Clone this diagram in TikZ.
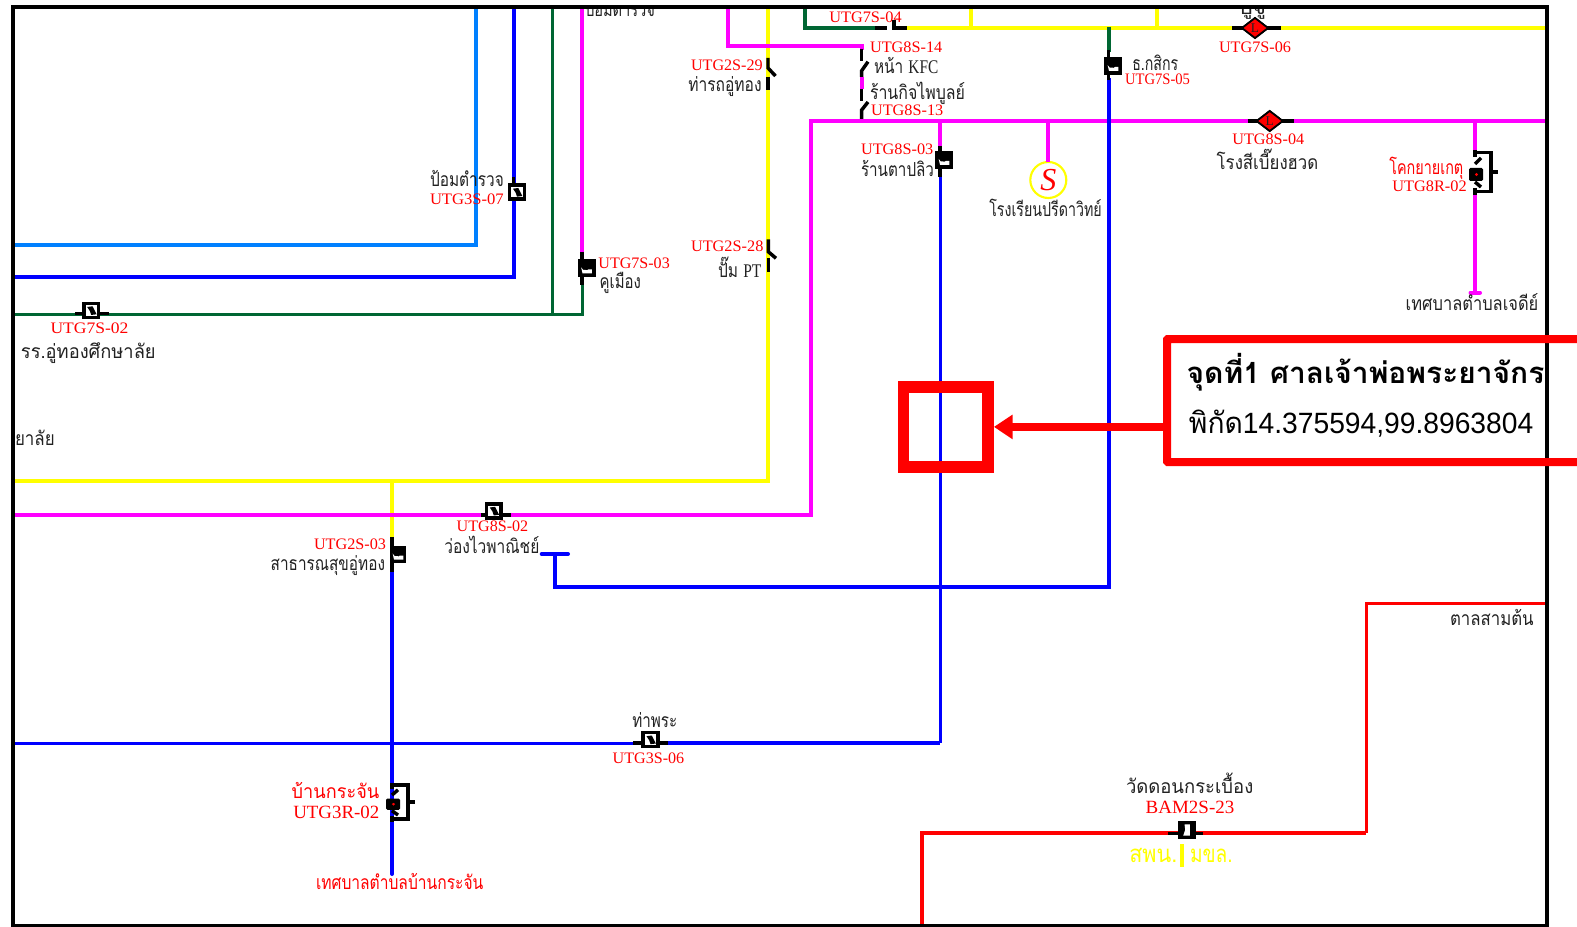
\documentclass[tikz,border=0pt]{standalone}
\usepackage{fontspec}
\usepackage{graphicx}
\setmainfont{Liberation Serif}
\newfontfamily\thf[Script=Thai]{Loma}
\newfontfamily\arl{Liberation Sans}
\usetikzlibrary{shapes.geometric,arrows.meta}
\definecolor{wmag}{HTML}{FF00FF}
\definecolor{wblue}{HTML}{0000FF}
\definecolor{wlight}{HTML}{0080FF}
\definecolor{wgreen}{HTML}{006633}
\definecolor{wyel}{HTML}{FFFF00}
\definecolor{wred}{HTML}{FF0000}
\definecolor{ink}{HTML}{222222}
\newcommand\lab[6]{%
  \pgfmathsetmacro\cx{(#3+#4)/2}\pgfmathsetmacro\wx{(#4-#3)*0.75}%
  \node[#2] (#1) at (\cx,#5) {\resizebox{\wx pt}{\height}{#6}};}
\newcommand\markA[1]{\fill[black] ([xshift=-3pt,yshift=2.5pt]#1.center) -- ([xshift=1pt,yshift=3pt]#1.center) -- ([xshift=4pt,yshift=-3pt]#1.center) -- ([xshift=0pt,yshift=-3.5pt]#1.center) -- ([xshift=-1pt,yshift=-.5pt]#1.center) -- cycle;}
\newcommand\markB[1]{\fill[white] ([xshift=-4pt,yshift=.8pt]#1.center) -- ([xshift=-2.5pt,yshift=-1pt]#1.center) -- ([xshift=.5pt,yshift=-1.2pt]#1.center) -- ([xshift=1.5pt,yshift=-.6pt]#1.center) -- ([xshift=4pt,yshift=-.6pt]#1.center) -- ([xshift=4pt,yshift=-3.6pt]#1.center) -- ([xshift=-3pt,yshift=-3.6pt]#1.center) -- cycle;}
\tikzset{
  x=0.75pt,y=-0.75pt,
  w4/.style={line width=3pt},
  w3/.style={line width=2.25pt},
  swl/.style={black,line width=2.6pt},
  lbl/.style={anchor=base,yshift=-4pt,inner sep=0pt,outer sep=0pt},
  redl/.style={lbl,text=wred,font=\rmfamily\fontsize{12}{14}\selectfont},
  redb/.style={lbl,text=wred,font=\rmfamily\fontsize{14}{16}\selectfont},
  thl/.style={lbl,yshift=-1pt,text=ink,font=\thf\fontsize{14.5}{16}\selectfont},
  thr/.style={lbl,yshift=-1pt,text=wred,font=\thf\fontsize{14.5}{16}\selectfont},
  thy/.style={lbl,yshift=-1pt,text=wyel,font=\thf\fontsize{18}{20}\selectfont},
  calltxt/.style={lbl,yshift=-2.5pt,text=black,font=\thf\fontsize{22}{24}\selectfont},
  swA/.style={draw=black,line width=2.6pt,fill=white,minimum width=11pt,minimum height=10.5pt,inner sep=0pt,outer sep=0pt},
  swB/.style={fill=black,minimum width=13.5pt,minimum height=13.5pt,inner sep=0pt,outer sep=0pt},
  loadsw/.style={diamond,draw=black,line width=1.3pt,fill=wred,minimum width=19.5pt,minimum height=15pt,inner sep=0pt,outer sep=0pt,font=\rmfamily\fontsize{10}{10}\selectfont,text=ink},
  recl/.pic={
    \draw[swl] (0,-22) -- (0,-15);
    \draw[swl] (0,-8) -- (6,-14);
    \draw[swl] (0,-19.5) -- (16,-19.5) -- (16,19.5) -- (0,19.5);
    \draw[swl] (16,0) -- (23,0);
    \draw[swl] (0,10) -- (6,15);
    \draw[swl] (0,16) -- (0,23);
    \fill[black,rounded corners=1pt] (-6,-4) rectangle (8,9);
    \fill[wred] (1.5,2.5) circle (1.6);
  },
}
\begin{document}
\begin{tikzpicture}
\useasboundingbox (0,0) rectangle (1577,927);
\clip (0,0) rectangle (1577,927);
\fill[white] (0,0) rectangle (1577,927);

% coordinates of wire ends and corners
\coordinate (leftLight) at (13,245);
\coordinate (cornLight) at (475.6,245);
\coordinate (topLight) at (475.6,7);
\coordinate (leftBlue) at (13,277);
\coordinate (cornBlue) at (513.5,277);
\coordinate (topBlue) at (513.5,7);
\coordinate (leftGreen) at (13,314);
\coordinate (cornGreen) at (582,314);
\coordinate (topGreen) at (552,7);
\coordinate (jGreen) at (552,314);
\coordinate (topMagA) at (582,7);
\coordinate (leftYel) at (13,481);
\coordinate (cornYel) at (768,481);
\coordinate (topYel) at (768,7);
\coordinate (jYel) at (392,481);
\coordinate (leftMag) at (13,515);
\coordinate (cornMagA) at (811,515);
\coordinate (cornMagB) at (811,121);
\coordinate (rightMag) at (1545,121);
\coordinate (topMagC) at (727.7,7);
\coordinate (cornMagC) at (727.7,46);
\coordinate (cornMagD) at (861.7,46);
\coordinate (topGreenB) at (805,7);
\coordinate (cornGreenB) at (805,28);
\coordinate (endGreenB) at (875,28);
\coordinate (startYelB) at (906,28);
\coordinate (rightYelB) at (1545,28);
\coordinate (topYelC) at (971,7);
\coordinate (footYelC) at (971,28);
\coordinate (topYelD) at (1156.7,7);
\coordinate (footYelD) at (1156.7,28);
\coordinate (jGreenC) at (1108.7,27);
\coordinate (cornBlueE) at (1108.7,587);
\coordinate (cornBlueF) at (555,587);
\coordinate (teeBlue) at (555,554);
\coordinate (teeL) at (541.7,554);
\coordinate (teeR) at (568,554);
\coordinate (jMagE) at (940,121);
\coordinate (cornBlueG) at (940,743);
\coordinate (leftBlueH) at (13,743);
\coordinate (endBlueI) at (392,874);
\coordinate (jMagF) at (1048.3,121);
\coordinate (jMagG) at (1475,121);
\coordinate (footMag) at (1475,292.5);
\coordinate (footL) at (1470.5,292.5);
\coordinate (footR) at (1480,292.5);
\coordinate (botRed) at (922,925);
\coordinate (cornRedA) at (922,833.3);
\coordinate (cornRedB) at (1366,833.3);
\coordinate (cornRedC) at (1366,603.5);
\coordinate (rightRed) at (1545,603.5);
\coordinate (yelBarT) at (1182,844.3);
\coordinate (yelBarB) at (1182,866.7);

% switch nodes
\node[swB] (s73) at (586.5,268.5) {};
\node[swB] (s75) at (1113,66.2) {};
\node[swB] (s83) at (944,160) {};
\node[swB,minimum width=12pt,minimum height=12.8pt] (s23) at (398,554.7) {};
\node[swB] (sbam) at (1186.5,829.7) {};
\node[swA] (s72) at (91.2,310.3) {};
\node[swA] (s37) at (517,192) {};
\node[swA] (s82) at (493.8,510.8) {};
\node[swA] (s36) at (650.5,739.5) {};
\node[loadsw] (d76) at (1255,28) {L};
\node[loadsw] (d84) at (1269.7,121) {L};
\node[circle,draw=wyel,line width=1.6pt,fill=white,minimum size=27pt,inner sep=0pt,outer sep=0pt,text=wred,font=\rmfamily\itshape\fontsize{24}{24}\selectfont] (cs) at (1048.3,180) {S};

% clipped labels at the top edge
\node[lbl,anchor=base,yshift=0pt,text=ink,font=\thf\fontsize{14}{16}\selectfont] (cutA) at (620,11) {\resizebox{52.5pt}{\height}{ป้อมตำรวจ}};
\node[lbl,anchor=base,yshift=0pt,text=ink,font=\thf\fontsize{14}{16}\selectfont] (cutB) at (1252,9) {\resizebox{21pt}{\height}{ปู่จู}};
\fill[white] (0,0) rectangle (1577,7);

% wires
\begin{scope}[line join=miter]
\draw[w4,wlight] (leftLight) -- (cornLight) -- (topLight);
\draw[w4,wblue] (leftBlue) -- (cornBlue) -- (topBlue);
\draw[w3,wgreen] (topGreen) -- (jGreen);
\draw[w3,wgreen] (leftGreen) -- (cornGreen) -- ++(0,-30);
\draw[w4,wmag] (topMagA) -- (582,252);
\draw[w4,wyel] (leftYel) -- (cornYel) -- (topYel);
\draw[w4,wyel] (jYel) -- (392,540);
\draw[w4,wmag] (leftMag) -- (cornMagA) -- (cornMagB) -- (rightMag);
\draw[w4,wmag] (topMagC) -- (cornMagC) -- (cornMagD) -- (861.7,50);
\draw[w4,wmag] (861.7,77) -- (861.7,89);
\draw[w4,wgreen] (topGreenB) -- (cornGreenB) -- (endGreenB);
\draw[w4,wyel] (startYelB) -- (rightYelB);
\draw[w4,wyel] (topYelC) -- (footYelC);
\draw[w4,wyel] (topYelD) -- (footYelD);
\draw[w4,wgreen] (jGreenC) -- (1108.7,52);
\draw[w4,wblue] (1108.7,78) -- (cornBlueE) -- (cornBlueF) -- (teeBlue);
\draw[w4,wblue,line cap=round] (teeL) -- (teeR);
\draw[w4,wmag] (jMagE) -- (940,147);
\draw[w3,wblue] (940,175) -- (cornBlueG);
\draw[w3,wblue] (leftBlueH) -- (s36.west |- leftBlueH);
\draw[w4,wblue] (s36.east |- cornBlueG) -- (cornBlueG);
\draw[w4,wblue,line cap=round] (392,570) -- (endBlueI);
\draw[w4,wmag] (jMagF) -- (cs.north);
\draw[w4,wmag] (jMagG) -- (1475,152);
\draw[w4,wmag] (1475,192) -- (footMag);
\draw[w4,wmag,line cap=round] (footL) -- (footR);
\draw[w4,wred] (botRed) -- (cornRedA) -- (cornRedB);
\draw[w3,wred] (cornRedB) -- (cornRedC) -- (rightRed);
\draw[w4,wyel] (yelBarT) -- (yelBarB);
\end{scope}

% black switch leads
\draw[swl] (582,252) -- (582,285);
\draw[swl] (1108.7,50) -- (1108.7,80);
\draw[swl] (940,146) -- (940,177);
\draw[swl] (392,537) -- (392,572);
\draw[swl] (75,313.3) -- (108.6,313.3);
\draw[swl] (513.5,177) -- (513.5,200);
\draw[swl] (480.7,515) -- (510.7,515);
\draw[swl] (633,743) -- (668,743);
\draw[swl] (1168.3,833.3) -- (1202.7,833.3);
\draw[swl] (1232,28) -- (1281,28);
\draw[swl] (1247.7,121) -- (1294.3,121);
\draw[swl] (875,28) -- (887.3,28);
\draw[swl] (894,20) -- (894,28) -- (906.7,28);
\draw[swl] (768,58) -- (768,68) -- (775.5,76);
\draw[swl] (768,77) -- (768,90);
\draw[swl] (768.3,239.3) -- (768.3,251.7) -- (776,258.3);
\draw[swl] (768.3,258.3) -- (768.3,272.3);
\draw[swl] (861.7,49) -- (861.7,60.7);
\draw[swl] (868,61.7) -- (861.7,70.7) -- (861.7,77);
\draw[swl] (861.7,89) -- (861.7,100.7);
\draw[swl] (868,102) -- (861.7,110) -- (861.7,119);

% redraw switch bodies over leads
\node[swB] (s73b) at (s73) {};
\node[swB] (s75b) at (s75) {};
\node[swB] (s83b) at (s83) {};
\node[swB,minimum width=12pt,minimum height=12.8pt] (s23b) at (s23) {};
\node[swB] (sbamb) at (sbam) {};
\node[swA] (s72b) at (s72) {};
\node[swA] (s37b) at (s37) {};
\node[swA] (s82b) at (s82) {};
\node[swA] (s36b) at (s36) {};
\node[loadsw] (d76b) at (d76) {L};
\node[loadsw] (d84b) at (d84) {L};
\markB{s73b}\markB{s75b}\markB{s83b}\markB{s23b}
\fill[white] ([xshift=-1.5pt,yshift=4pt]sbamb.center) -- ([xshift=2.5pt,yshift=4pt]sbamb.center) -- ([xshift=2.5pt,yshift=-4.5pt]sbamb.center) -- ([xshift=-2.5pt,yshift=-4.5pt]sbamb.center) -- ([xshift=-1pt,yshift=0pt]sbamb.center) -- cycle;
\markA{s72b}\markA{s37b}\markA{s82b}\markA{s36b}
\pic at (1475,172) {recl};
\pic[yscale=0.87] at (392,802) {recl};

% frame
\draw[black,line width=3pt] (13,7.5) rectangle (1547,925.5);

% labels
\lab{t1}{redl}{829.3}{901.7}{17.3}{UTG7S-04}
\lab{t2}{redl}{870}{942.3}{47.3}{UTG8S-14}
\lab{t3}{thl}{874}{938.3}{66.7}{หน้า {\rmfamily KFC}}
\lab{t4}{thl}{870}{965}{93}{ร้านกิจไพบูลย์}
\lab{t5}{redl}{871}{943.3}{110}{UTG8S-13}
\lab{t6}{redl}{691}{762.7}{65}{UTG2S-29}
\lab{t7}{thl}{688.3}{761.7}{85}{ท่ารถอู่ทอง}
\lab{t8}{redl}{861}{933.3}{149.3}{UTG8S-03}
\lab{t9}{thl}{861}{934}{170}{ร้านตาปลิว}
\lab{t10}{thl}{989.3}{1101.7}{210}{โรงเรียนปรีดาวิทย์}
\lab{t11}{thl}{1132.3}{1178.3}{64.3}{ธ.กสิกร}
\lab{t12}{redl}{1125}{1190}{79.3}{UTG7S-05}
\lab{t13}{redl}{1219}{1291}{47.3}{UTG7S-06}
\lab{t14}{redl}{1232.3}{1304.3}{139.3}{UTG8S-04}
\lab{t15}{thl}{1216.7}{1318.3}{163.3}{โรงสีเบี๊ยงฮวด}
\lab{t16}{thr}{1389.3}{1463.3}{168.3}{โคกยายเกตุ}
\lab{t17}{redl}{1392.3}{1466.7}{185.7}{UTG8R-02}
\lab{t18}{thl}{1405.7}{1538.3}{304}{เทศบาลตำบลเจดีย์}
\lab{t19}{thl}{430}{503.8}{180}{ป้อมตำรวจ}
\lab{t20}{redl}{430}{503.8}{199}{UTG3S-07}
\lab{t21}{redl}{598.4}{669.8}{262.7}{UTG7S-03}
\lab{t22}{thl}{599.7}{641}{281.7}{คูเมือง}
\lab{t23}{redl}{50.5}{128.4}{328.3}{UTG7S-02}
\lab{t24}{thl}{21}{155.7}{351.7}{รร.อู่ทองศึกษาลัย}
\lab{t25}{thl}{15}{54.7}{439.3}{ยาลัย}
\lab{t26}{redl}{314}{386}{544}{UTG2S-03}
\lab{t27}{thl}{270.7}{385}{564.3}{สาธารณสุขอู่ทอง}
\lab{t28}{redl}{456.7}{528.3}{526}{UTG8S-02}
\lab{t29}{thl}{444.3}{539.3}{546.7}{ว่องไวพาณิชย์}
\lab{t30}{redl}{691}{763.4}{246.4}{UTG2S-28}
\lab{t31}{thl}{718}{761.4}{270.5}{ปั๊ม {\rmfamily PT}}
\lab{t32}{thl}{1450}{1533.7}{618.5}{ตาลสามต้น}
\lab{t33}{thl}{632.3}{677.3}{720.7}{ท่าพระ}
\lab{t34}{redl}{612.7}{684.3}{758.3}{UTG3S-06}
\lab{t35}{thr}{291.7}{379.3}{791.7}{บ้านกระจัน}
\lab{t36}{redb}{293.3}{379.3}{813.3}{UTG3R-02}
\lab{t37}{thr}{316}{483.3}{882.7}{เทศบาลตำบลบ้านกระจัน}
\lab{t38}{thl}{1126}{1253.3}{786.7}{วัดดอนกระเบื้อง}
\lab{t39}{redb}{1145.7}{1234.3}{808.3}{BAM2S-23}
\lab{t40}{thy}{1129.3}{1177.3}{855.7}{สพน.}
\lab{t41}{thy}{1190}{1232.7}{855.7}{มขล.}

% marked spot and callout
\node[draw=wred,line width=8.6pt,minimum width=63.4pt,minimum height=59.8pt,inner sep=0pt] (spot) at (945.9,426.9) {};
\node[draw=wred,line width=6pt,minimum width=399.75pt,minimum height=92.25pt,inner sep=0pt,rounded corners=0.5pt] (callout) at (1433.5,400.5) {};
\draw[wred,line width=6pt,-{Triangle[length=14pt,width=17.5pt]}] (callout.west |- spot.east) -- (spot.east);
\lab{c1}{calltxt,font=\thf\bfseries\fontsize{22}{24}\selectfont}{1186.7}{1544.4}{375}{จุดที่1 ศาลเจ้าพ่อพระยาจักร}
\lab{c2}{calltxt}{1188.9}{1533.3}{425}{พิกัด{\arl 14.375594,99.8963804}}
\end{tikzpicture}
\end{document}
